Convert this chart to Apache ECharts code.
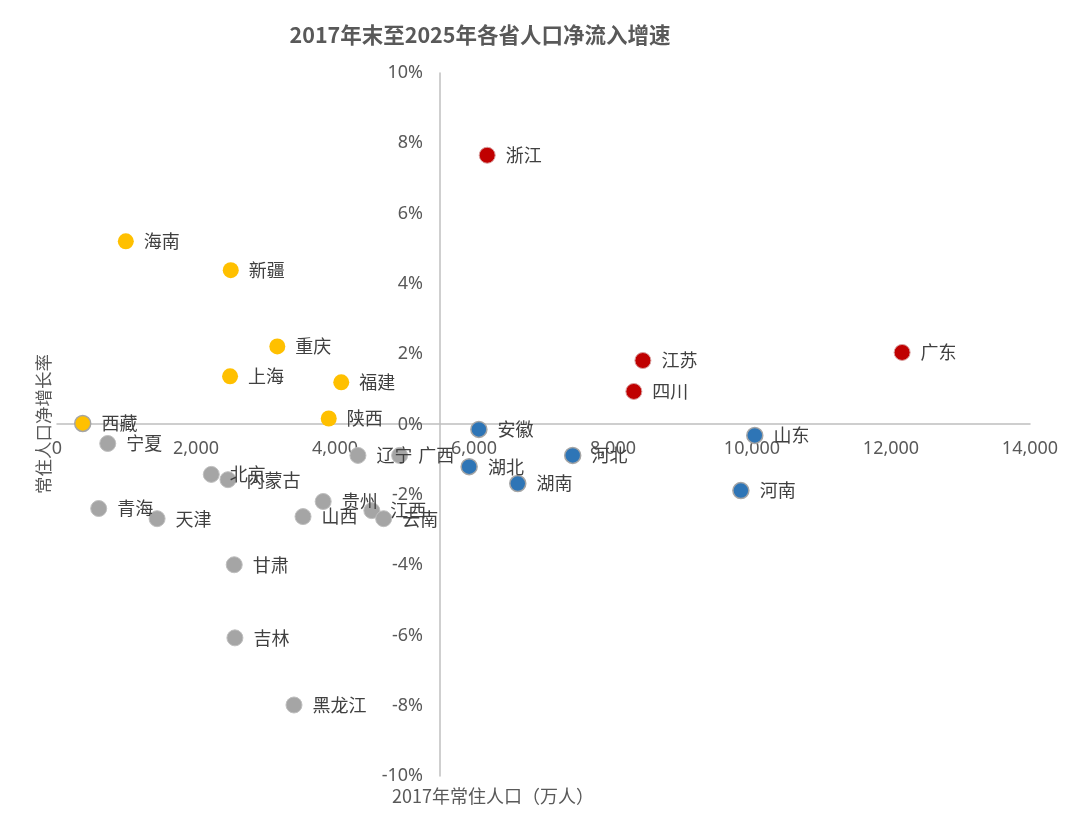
<!DOCTYPE html>
<html>
<head>
<meta charset="utf-8">
<script src="https://cdn.jsdelivr.net/npm/echarts@6/dist/echarts.min.js"></script>
<style>
  html, body { margin: 0; padding: 0; background: #fff; }
  #chart { width: 1080px; height: 838px; }
</style>
</head>
<body>
<div id="chart"></div>
<script>
// 省份、2017年常住人口（万人）、净增长率（%）、分组
const provinces = ['浙江', '江苏', '四川', '广东',
  '海南', '新疆', '重庆', '上海', '福建', '陕西', '西藏',
  '安徽', '湖北', '河北', '湖南', '山东', '河南',
  '宁夏', '北京', '内蒙古', '青海', '天津', '辽宁', '广西', '贵州', '山西', '江西', '云南', '甘肃', '吉林', '黑龙江'];
const population = [6190, 8430, 8300, 12160,
  990, 2500, 3170, 2490, 4090, 3910, 370,
  6070, 5930, 7420, 6630, 10040, 9840,
  730, 2220, 2460, 600, 1440, 4330, 4930, 3830, 3540, 4530, 4700, 2550, 2560, 3410];
const growth = [7.66, 1.82, 0.94, 2.05,
  5.21, 4.39, 2.22, 1.37, 1.20, 0.17, 0.03,
  -0.14, -1.20, -0.88, -1.68, -0.31, -1.88,
  -0.54, -1.42, -1.57, -2.39, -2.68, -0.88, -0.88, -2.19, -2.62, -2.45, -2.68, -3.99, -6.07, -7.98];
const groups = ['red', 'red', 'red', 'red',
  'yellow', 'yellow', 'yellow', 'yellow', 'yellow', 'yellow', 'yellow',
  'blue', 'blue', 'blue', 'blue', 'blue', 'blue',
  'gray', 'gray', 'gray', 'gray', 'gray', 'gray', 'gray', 'gray', 'gray', 'gray', 'gray', 'gray', 'gray', 'gray'];
const xTicks = [0, 2000, 4000, 6000, 8000, 10000, 12000, 14000];
const yTicks = [-10, -8, -6, -4, -2, 0, 2, 4, 6, 8, 10];

const groupStyle = {
  red: { color: '#C00000', borderColor: '#D9A0A0', borderWidth: 1, opacity: 1 },
  yellow: { color: '#FFC000', borderColor: '#FFD966', borderWidth: 0, opacity: 1 },
  blue: { color: '#2E75B6', borderColor: '#A5A5A5', borderWidth: 1.5, opacity: 1 },
  gray: { color: '#A5A5A5', borderColor: '#BFBFBF', borderWidth: 1, opacity: 1 }
};

const chart = echarts.init(document.getElementById('chart'));
const cjk = '"Noto Sans CJK SC", "Noto Sans", sans-serif';
const latin = '"Noto Sans", "Noto Sans CJK SC", sans-serif';

const series = Object.keys(groupStyle).map(g => ({
  type: 'scatter',
  name: g,
  symbolSize: 16,
  itemStyle: groupStyle[g],
  label: {
    show: true,
    position: 'right',
    distance: 10,
    formatter: p => p.value[2],
    color: '#404040',
    fontSize: 18,
    fontFamily: cjk
  },
  data: provinces
    .map((name, i) => [population[i], growth[i], name, groups[i]])
    .filter(d => d[3] === g)
}));
// 西藏 has a grey outline
series[1].data = series[1].data.map(d => d[2] === '西藏'
  ? { value: d, itemStyle: { borderColor: '#A5A5A5', borderWidth: 1.5 } } : d);

chart.setOption({
  backgroundColor: '#fff',
  animation: false,
  textStyle: { fontFamily: cjk },
  title: {
    text: '2017年末至2025年各省人口净流入增速',
    left: 475,
    top: 19,
    textAlign: 'center',
    textStyle: { fontSize: 21.5, fontWeight: 'bold', color: '#595959', fontFamily: cjk }
  },
  grid: { left: 57, right: 50, top: 73, bottom: 62, containLabel: false },
  xAxis: {
    type: 'value',
    min: xTicks[0],
    max: xTicks[xTicks.length - 1],
    interval: xTicks[1] - xTicks[0],
    position: 'bottom',
    offset: -352,
    splitLine: { show: false },
    axisTick: { show: false },
    axisLine: { onZero: false, lineStyle: { color: '#BFBFBF', width: 1.5 } },
    axisLabel: {
      color: '#595959', fontSize: 18, margin: 16, fontFamily: latin,
      formatter: v => v.toLocaleString('en-US')
    }
  },
  yAxis: {
    type: 'value',
    min: yTicks[0],
    max: yTicks[yTicks.length - 1],
    interval: yTicks[1] - yTicks[0],
    position: 'left',
    offset: -383,
    splitLine: { show: false },
    axisTick: { show: false },
    axisLine: { show: true, onZero: false, lineStyle: { color: '#BFBFBF', width: 1.5 } },
    axisLabel: {
      color: '#595959', fontSize: 18, margin: 17, fontFamily: latin,
      formatter: v => v + '%'
    }
  },
  graphic: [
    {
      type: 'text', left: 392, top: 787,
      style: { text: '2017年常住人口（万人）', fill: '#595959', fontSize: 18, fontFamily: cjk }
    },
    {
      type: 'text', x: 35, y: 494, rotation: Math.PI / 2,
      style: { text: '常住人口净增长率', fill: '#595959', fontSize: 17.5, fontFamily: cjk, textAlign: 'left', textVerticalAlign: 'top' }
    }
  ],
  series: series
});
</script>
</body>
</html>
